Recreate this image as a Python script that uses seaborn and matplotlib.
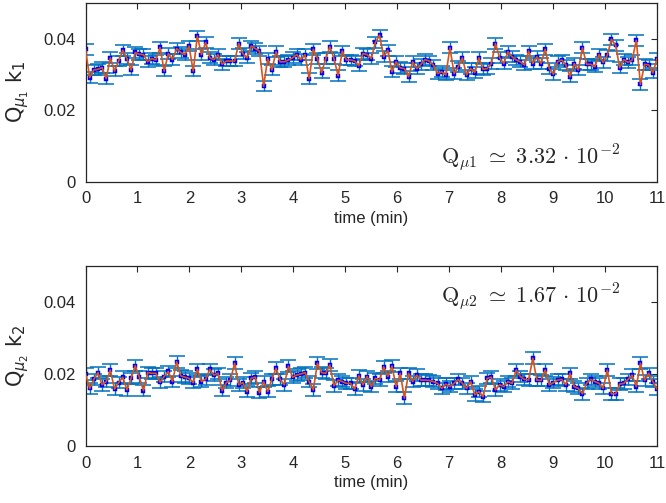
import numpy as np
import pandas as pd
import seaborn as sns
import matplotlib.pyplot as plt

# values
k1 = [0.0370, 0.0291, 0.0312, 0.0314, 0.0319, 0.0288, 0.0346, 0.0309, 0.0337, 0.0367,
      0.0344, 0.0312, 0.0361, 0.0356, 0.0355, 0.0335, 0.0344, 0.0340, 0.0375, 0.0309,
      0.0358, 0.0341, 0.0372, 0.0361, 0.0355, 0.0379, 0.0309, 0.0407, 0.0355, 0.0389,
      0.0346, 0.0341, 0.0355, 0.0328, 0.0337, 0.0337, 0.0337, 0.0386, 0.0358, 0.0346,
      0.0379, 0.0372, 0.0365, 0.0267, 0.0344, 0.0312, 0.0363, 0.0335, 0.0335, 0.0340,
      0.0346, 0.0355, 0.0341, 0.0355, 0.0288, 0.0370, 0.0344, 0.0304, 0.0344, 0.0377,
      0.0344, 0.0296, 0.0365, 0.0340, 0.0340, 0.0337, 0.0324, 0.0358, 0.0355,
      0.0344, 0.0389, 0.0409, 0.0349, 0.0367, 0.0307, 0.0335, 0.0318, 0.0316, 0.0293,
      0.0335, 0.0316, 0.0328, 0.0341, 0.0337, 0.0326, 0.0302, 0.0307, 0.0298, 0.0374,
      0.0302, 0.0321, 0.0346, 0.0298, 0.0316, 0.0305, 0.0346, 0.0314, 0.0316, 0.0330,
      0.0386, 0.0346, 0.0330, 0.0363, 0.0349, 0.0340, 0.0335, 0.0326, 0.0365, 0.0330,
      0.0349, 0.0330, 0.0370, 0.0316, 0.0300, 0.0335, 0.0340, 0.0326, 0.0293, 0.0330,
      0.0312, 0.0374, 0.0328, 0.0328, 0.0321, 0.0355, 0.0333, 0.0353, 0.0398, 0.0381,
      0.0318, 0.0341, 0.0333, 0.0340, 0.0395, 0.0272, 0.0328, 0.0326, 0.0304, 0.0344]

k2 = [0.0200, 0.0160, 0.0185, 0.0204, 0.0170, 0.0179, 0.0211, 0.0158, 0.0176, 0.0191,
      0.0156, 0.0188, 0.0223, 0.0191, 0.0154, 0.0204, 0.0202, 0.0202, 0.0177, 0.0193,
      0.0207, 0.0179, 0.0234, 0.0195, 0.0191, 0.0188, 0.0176, 0.0213, 0.0179, 0.0185,
      0.0213, 0.0197, 0.0202, 0.0154, 0.0176, 0.0183, 0.0230, 0.0170, 0.0176, 0.0151,
      0.0188, 0.0191, 0.0148, 0.0179, 0.0151, 0.0185, 0.0216, 0.0185, 0.0170, 0.0222,
      0.0191, 0.0197, 0.0200, 0.0204, 0.0179, 0.0156, 0.0230, 0.0204, 0.0202, 0.0225,
      0.0167, 0.0183, 0.0179, 0.0174, 0.0174, 0.0158, 0.0195, 0.0170, 0.0193,
      0.0165, 0.0188, 0.0183, 0.0220, 0.0193, 0.0222, 0.0165, 0.0202, 0.0133, 0.0202,
      0.0179, 0.0197, 0.0183, 0.0183, 0.0182, 0.0179, 0.0174, 0.0160, 0.0172, 0.0165,
      0.0174, 0.0185, 0.0174, 0.0160, 0.0179, 0.0142, 0.0151, 0.0137, 0.0188, 0.0191,
      0.0156, 0.0170, 0.0165, 0.0179, 0.0174, 0.0211, 0.0193, 0.0185, 0.0183, 0.0244,
      0.0183, 0.0182, 0.0211, 0.0170, 0.0176, 0.0183, 0.0185, 0.0170, 0.0202, 0.0165,
      0.0160, 0.0145, 0.0174, 0.0185, 0.0179, 0.0174, 0.0160, 0.0211, 0.0145, 0.0145,
      0.0172, 0.0174, 0.0185, 0.0197, 0.0165, 0.0230, 0.0182, 0.0202, 0.0179, 0.0158]

err1 = 0.0015
err2 = 0.0016
t_end = 11
time = np.linspace(0, t_end, len(k1))

sns.set_style("white")
plt.rcParams['font.family'] = ['Liberation Sans', 'DejaVu Sans']
plt.rcParams['mathtext.fontset'] = 'cm'

fig = plt.figure(figsize=(6.66, 5.03), dpi=100)
ax1 = fig.add_axes([0.1284, 0.6388, 0.8581, 0.3558])
ax2 = fig.add_axes([0.1284, 0.1133, 0.8581, 0.3579])

panels = [(ax1, k1, err1, r'$\mathrm{Q}_{\mu_1}\ \mathrm{k}_1$',
           r'$\mathrm{Q}_{\mu1}\ \simeq\ 3.32\,\cdot\,10^{-2}$', 0.0066),
          (ax2, k2, err2, r'$\mathrm{Q}_{\mu_2}\ \mathrm{k}_2$',
           r'$\mathrm{Q}_{\mu2}\ \simeq\ 1.67\,\cdot\,10^{-2}$', 0.0414)]

for ax, vals, err, ylab, note, ny in panels:
    df = pd.DataFrame({"time": time, "k": vals})
    ax.errorbar(df["time"], df["k"], yerr=err, fmt='none', ecolor='#0072BD',
                elinewidth=1.0, capsize=5.5, capthick=1.1, zorder=1)
    sns.scatterplot(data=df, x="time", y="k", ax=ax, marker='s', s=7,
                    color='#0000FF', edgecolor='#0000FF', linewidth=0.3, zorder=2)
    sns.lineplot(data=df, x="time", y="k", ax=ax, color='#D95319', linewidth=1.2, zorder=3)
    ax.set_xlim(0, 11)
    ax.set_ylim(0, 0.05)
    ax.set_xticks(range(0, 12))
    ax.set_yticks([0, 0.02, 0.04])
    ax.set_yticklabels(['0', '0.02', '0.04'])
    ax.set_xlabel("time (min)", fontsize=12, labelpad=3)
    ax.set_ylabel(ylab, fontsize=15, math_fontfamily='dejavusans', labelpad=9)
    ax.tick_params(direction='in', length=4, width=0.8, top=True, right=True,
                   labelsize=12, colors='#262626', pad=7)
    for sp in ax.spines.values():
        sp.set_color('#262626')
        sp.set_linewidth(0.9)
    ax.text(6.85, ny, note, fontsize=16, va='center', ha='left')

plt.savefig("out.png", dpi=100)
